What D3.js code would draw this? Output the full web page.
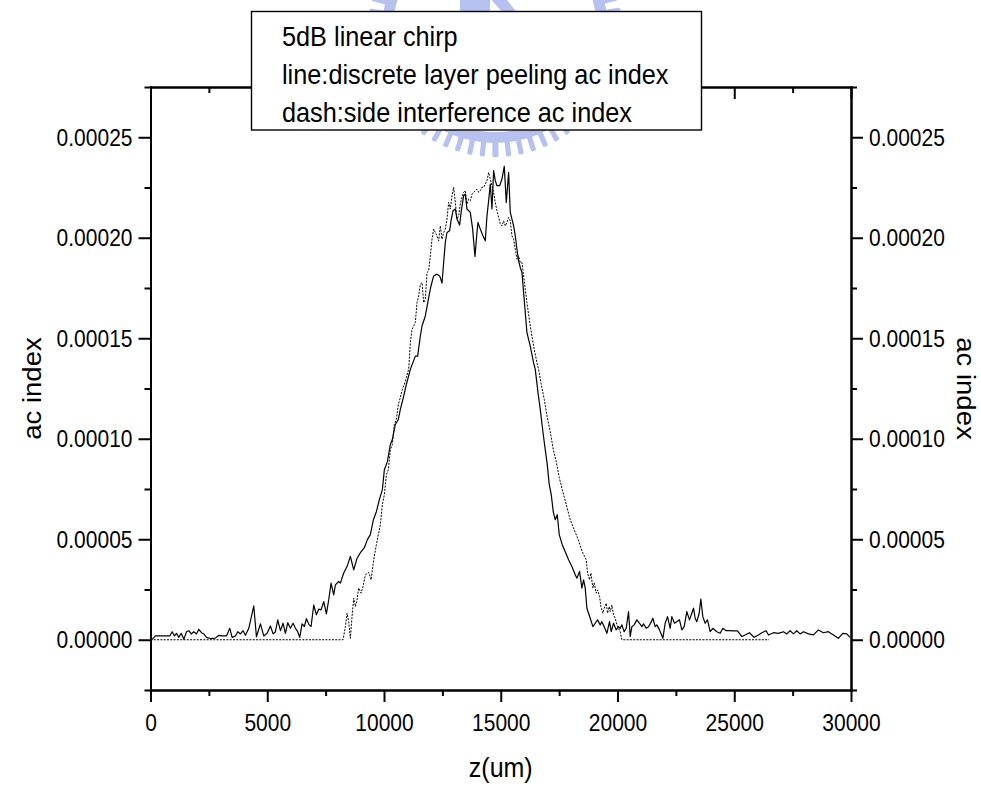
<!DOCTYPE html>
<html>
<head>
<meta charset="utf-8">
<script src="https://cdn.jsdelivr.net/npm/d3@7"></script>
<style>
  html, body { margin: 0; padding: 0; background: #fff; }
  svg { display: block; }
</style>
</head>
<body>
<svg id="chart" width="981" height="788"></svg>
<script>
// ---- axis ticks and labels ----
const xTicks = [0, 5000, 10000, 15000, 20000, 25000, 30000];
const xTickLabels = ["0", "5000", "10000", "15000", "20000", "25000", "30000"];
const xMinorTicks = [2500, 7500, 12500, 17500, 22500, 27500];
const yTicks = [0, 0.00005, 0.0001, 0.00015, 0.0002, 0.00025];
const yTickLabels = ["0.00000", "0.00005", "0.00010", "0.00015", "0.00020", "0.00025"];
const yMinorTicks = [-0.000025, 0.000025, 0.000075, 0.000125, 0.000175, 0.000225, 0.000275];
const xTitle = "z(um)";
const yTitle = "ac index";
const legendLines = [
  "5dB linear chirp",
  "line:discrete layer peeling ac index",
  "dash:side interference ac index"
];

// ---- series: [z (um), ac index] ----
const layerPeeling = [
  [71,0.2e-6],[214,1.9e-6],[428,1.9e-6],[642,1.9e-6],[827,1.9e-6],[927,4.0e-6],[1027,1.9e-6],[1113,3.2e-6],
  [1213,1.2e-6],[1313,3.2e-6],[1427,0.2e-6],[1541,4.0e-6],[1641,4.5e-6],[1741,2.9e-6],[1855,4.0e-6],[1969,2.9e-6],
  [2069,5.2e-6],[2183,3.5e-6],[2283,2.9e-6],[2397,1.2e-6],[2568,0.6e-6],[2782,0.8e-6],[2925,2.2e-6],[3067,1.9e-6],
  [3253,1.9e-6],[3396,5.7e-6],[3495,1.2e-6],[3638,1.9e-6],[3738,4.0e-6],[3852,2.9e-6],[3966,4.5e-6],[4066,2.2e-6],
  [4209,5.7e-6],[4423,16.8e-6],[4537,1.5e-6],[4708,7.9e-6],[4851,1.9e-6],[4993,3.2e-6],[5136,6.9e-6],[5250,2.9e-6],
  [5350,4.0e-6],[5450,9.9e-6],[5564,4.5e-6],[5678,8.2e-6],[5778,3.2e-6],[5878,8.5e-6],[5992,5.7e-6],[6106,8.2e-6],
  [6206,5.7e-6],[6306,4.0e-6],[6392,1.2e-6],[6491,7.9e-6],[6591,6.6e-6],[6677,10.5e-6],[6791,7.4e-6],[6877,6.6e-6],
  [6991,17.3e-6],[7105,12.4e-6],[7205,15.2e-6],[7305,14.9e-6],[7419,19.0e-6],[7533,12.9e-6],[7633,19.8e-6],[7733,28.2e-6],
  [7847,22.3e-6],[7918,27.3e-6],[8061,29.0e-6],[8132,28.2e-6],[8275,33.2e-6],[8417,36.4e-6],[8560,41.5e-6],[8703,34.8e-6],
  [8845,40.5e-6],[8988,43.3e-6],[9159,45.8e-6],[9288,49.8e-6],[9416,52.3e-6],[9544,59.7e-6],[9673,63.7e-6],[9801,69.7e-6],
  [9930,74.7e-6],[10015,84.6e-6],[10144,88.6e-6],[10272,97.1e-6],[10358,99.6e-6],[10486,107.1e-6],[10614,109.6e-6],
  [10700,114.6e-6],[10828,120.5e-6],[10957,127.0e-6],[11128,134.5e-6],[11342,141.1e-6],[11442,141.1e-6],[11556,151.1e-6],
  [11628,156.1e-6],[11770,161.1e-6],[11913,170.2e-6],[12013,176.0e-6],[12127,181.0e-6],[12270,181.9e-6],[12384,181.0e-6],
  [12484,177.4e-6],[12555,187.7e-6],[12626,197.7e-6],[12698,202.6e-6],[12812,203.5e-6],[12869,208.4e-6],[12954,213.4e-6],
  [13054,214.3e-6],[13125,209.3e-6],[13239,206.3e-6],[13311,213.4e-6],[13410,220.9e-6],[13482,221.7e-6],[13553,214.3e-6],
  [13696,212.6e-6],[13796,204.3e-6],[13896,190.7e-6],[13981,202.6e-6],[14024,207.6e-6],[14124,204.3e-6],[14238,201.0e-6],
  [14338,198.5e-6],[14410,210.9e-6],[14481,218.4e-6],[14552,226.7e-6],[14624,214.3e-6],[14695,233.4e-6],[14766,228.4e-6],
  [14838,225.9e-6],[14952,225.9e-6],[15052,229.2e-6],[15151,235.5e-6],[15237,217.6e-6],[15337,232.5e-6],[15408,212.6e-6],
  [15480,209.3e-6],[15551,205.9e-6],[15622,201.0e-6],[15694,194.3e-6],[15765,188.5e-6],[15836,185.2e-6],[15908,182.7e-6],
  [15979,172.7e-6],[16050,162.8e-6],[16122,152.8e-6],[16264,146.1e-6],[16407,137.8e-6],[16478,134.5e-6],[16607,121.9e-6],
  [16692,114.6e-6],[16820,102.1e-6],[16906,94.6e-6],[16992,87.1e-6],[17077,77.2e-6],[17163,72.2e-6],[17248,63.7e-6],
  [17334,59.7e-6],[17420,62.2e-6],[17505,52.3e-6],[17634,47.3e-6],[17762,43.8e-6],[17904,39.8e-6],[18047,36.4e-6],
  [18190,32.3e-6],[18261,30.6e-6],[18375,34.0e-6],[18475,25.7e-6],[18547,29.8e-6],[18618,25.7e-6],[18689,15.7e-6],
  [18832,10.7e-6],[18946,6.5e-6],[19046,8.2e-6],[19146,9.9e-6],[19260,7.4e-6],[19331,9.0e-6],[19431,6.5e-6],[19545,3.2e-6],
  [19659,9.0e-6],[19731,4.0e-6],[19830,8.2e-6],[19945,4.9e-6],[20045,6.5e-6],[20116,5.7e-6],[20187,7.4e-6],[20287,4.0e-6],
  [20373,5.7e-6],[20473,14.0e-6],[20544,1.6e-6],[20615,6.5e-6],[20715,7.4e-6],[20829,9.9e-6],[20943,8.2e-6],[21043,6.5e-6],
  [21115,7.9e-6],[21229,5.7e-6],[21329,6.5e-6],[21428,8.5e-6],[21514,10.7e-6],[21614,6.5e-6],[21685,7.4e-6],[21799,4.9e-6],
  [21942,0.7e-6],[22042,8.2e-6],[22142,11.5e-6],[22256,5.7e-6],[22327,11.5e-6],[22441,8.2e-6],[22541,9.0e-6],[22655,9.9e-6],
  [22755,4.9e-6],[22855,6.5e-6],[22969,14.0e-6],[23083,9.9e-6],[23183,13.2e-6],[23255,15.7e-6],[23326,10.7e-6],[23397,9.0e-6],
  [23497,13.2e-6],[23569,20.2e-6],[23654,11.5e-6],[23754,8.2e-6],[23854,9.9e-6],[23968,4.0e-6],[24083,5.7e-6],[24254,4.0e-6],
  [24396,3.2e-6],[24511,5.7e-6],[24653,4.5e-6],[24796,4.5e-6],[24967,4.4e-6],[25138,4.4e-6],[25324,1.6e-6],[25466,2.4e-6],
  [25651,3.5e-6],[25851,1.2e-6],[26037,2.4e-6],[26180,3.5e-6],[26365,4.5e-6],[26465,2.4e-6],[26679,3.5e-6],[26892,3.2e-6],
  [27107,4.0e-6],[27251,2.9e-6],[27392,4.5e-6],[27535,2.9e-6],[27678,4.5e-6],[27820,2.9e-6],[27963,4.0e-6],[28177,2.9e-6],
  [28390,2.4e-6],[28604,4.9e-6],[28818,3.5e-6],[29031,4.0e-6],[29247,2.4e-6],[29459,0.7e-6],[29647,3.2e-6],[29819,2.9e-6],
  [29960,1.2e-6]
];

const sideInterference = [
  [0,0],[8246,0],[8346,6.5e-6],[8417,13.2e-6],[8489,9.0e-6],[8560,0.7e-6],[8631,11.5e-6],[8703,20.7e-6],[8775,16.5e-6],
  [8845,19.8e-6],[8917,25.7e-6],[9018,23.2e-6],[9103,26.5e-6],[9202,32.3e-6],[9345,33.5e-6],[9447,29.8e-6],[9560,39.8e-6],
  [9673,47.3e-6],[9758,52.3e-6],[9844,57.2e-6],[9930,67.2e-6],[10015,72.2e-6],[10101,82.1e-6],[10186,84.6e-6],[10272,94.6e-6],
  [10358,97.1e-6],[10443,107.1e-6],[10529,109.6e-6],[10614,117.1e-6],[10700,120.5e-6],[10786,124.5e-6],[10871,127.0e-6],
  [10957,130.5e-6],[11056,134.5e-6],[11128,147.8e-6],[11199,154.4e-6],[11270,156.1e-6],[11342,157.8e-6],[11413,167.7e-6],
  [11485,171.0e-6],[11556,176.9e-6],[11628,177.7e-6],[11699,167.7e-6],[11770,169.4e-6],[11842,182.7e-6],[11913,183.5e-6],
  [11984,191.0e-6],[12056,199.3e-6],[12127,204.3e-6],[12198,202.6e-6],[12270,201.0e-6],[12341,198.5e-6],[12412,205.9e-6],
  [12484,199.3e-6],[12555,202.6e-6],[12626,204.3e-6],[12698,209.3e-6],[12769,217.6e-6],[12840,214.3e-6],[12912,220.9e-6],
  [12983,225.1e-6],[13054,217.6e-6],[13125,209.3e-6],[13197,210.9e-6],[13268,216.8e-6],[13339,220.1e-6],[13410,222.6e-6],
  [13482,223.4e-6],[13553,216.8e-6],[13624,219.2e-6],[13696,218.4e-6],[13768,221.7e-6],[13839,222.6e-6],[13910,223.4e-6],
  [13981,224.2e-6],[14053,222.6e-6],[14124,223.4e-6],[14195,225.1e-6],[14267,225.1e-6],[14338,226.7e-6],[14410,228.4e-6],
  [14481,232.5e-6],[14552,229.2e-6],[14624,225.9e-6],[14695,222.6e-6],[14766,217.6e-6],[14838,213.4e-6],[14909,210.1e-6],
  [14980,206.8e-6],[15052,205.9e-6],[15123,208.4e-6],[15194,205.9e-6],[15266,207.6e-6],[15337,210.1e-6],[15408,208.4e-6],
  [15480,201.0e-6],[15551,199.3e-6],[15622,194.3e-6],[15694,189.3e-6],[15765,191.0e-6],[15836,187.7e-6],[15908,187.7e-6],
  [15979,181.0e-6],[16122,167.7e-6],[16264,156.1e-6],[16407,146.1e-6],[16550,137.8e-6],[16621,134.5e-6],[16735,127.0e-6],
  [16863,119.6e-6],[16992,110.6e-6],[17120,103.6e-6],[17248,94.6e-6],[17377,88.6e-6],[17505,80.7e-6],[17634,74.7e-6],
  [17805,67.2e-6],[17976,59.7e-6],[18147,54.7e-6],[18318,49.8e-6],[18490,43.8e-6],[18661,39.8e-6],[18718,33.2e-6],
  [18804,29.8e-6],[18861,33.2e-6],[18946,25.7e-6],[19003,28.2e-6],[19089,23.2e-6],[19146,24.8e-6],[19232,21.5e-6],
  [19289,16.5e-6],[19374,13.2e-6],[19431,15.7e-6],[19517,18.2e-6],[19574,13.2e-6],[19645,16.5e-6],[19688,14.0e-6],
  [19760,17.3e-6],[19830,12.4e-6],[19902,10.7e-6],[19975,7.4e-6],[20045,5.7e-6],[20116,4.0e-6],[20187,0],[26493,0]
];

// ---- layout ----
const FONT = "'Liberation Sans', Arial, Helvetica, sans-serif";
const plot = { left: 150.5, right: 851, top: 87, bottom: 690 };
const STRETCH = 1.1;   // glyphs are drawn slightly tall

const svg = d3.select("#chart");

const x = d3.scaleLinear().domain([0, 30000]).range([plot.left, plot.right]);
const y = d3.scaleLinear().domain([-0.000025, 0.000275]).range([plot.bottom, plot.top]);

// ---- faint seal behind the plot ----
const seal = svg.append("g")
  .attr("transform", "translate(495,30)")
  .attr("fill", "#a4b2ec")
  .attr("opacity", 0.8)
  .style("filter", "blur(0.7px)");
seal.append("path")
  .attr("d", d3.arc().innerRadius(102).outerRadius(113).startAngle(0).endAngle(2 * Math.PI)());
d3.range(0, 360, 5.8).forEach(a => {
  seal.append("rect")
    .attr("x", -2.6).attr("y", 111).attr("width", 5.2).attr("height", 16)
    .attr("rx", 1.5)
    .attr("transform", `rotate(${a})`);
});
seal.append("path").attr("d", "M-35,-40 L-5,-40 L-5,-18 L-35,-18 Z");
seal.append("path").attr("d", "M-12,-40 L4,-40 L28,-10 L14,-10 Z");

// ---- axes ----
function styleAxis(g) {
  g.attr("font-family", FONT).attr("font-size", 21);
  g.select(".domain").attr("stroke", "#000").attr("stroke-width", 2).attr("stroke-linecap", "square");
  g.selectAll(".tick line").attr("stroke", "#000").attr("stroke-width", 2);
  g.selectAll(".tick text").attr("fill", "#000");
}

// bottom
const gBottom = svg.append("g").attr("transform", `translate(0,${plot.bottom})`)
  .call(d3.axisBottom(x).tickValues(xTicks).tickSize(12).tickSizeOuter(0)
    .tickFormat((d, i) => xTickLabels[i]));
styleAxis(gBottom);
gBottom.selectAll(".tick text").attr("y", null).attr("dy", null)
  .attr("transform", `translate(0,41) scale(1,${STRETCH})`);
svg.append("g").attr("transform", `translate(0,${plot.bottom})`)
  .call(d3.axisBottom(x).tickValues(xMinorTicks).tickSize(6).tickSizeOuter(0).tickFormat(""))
  .call(styleAxis);

// top (ticks point inward)
svg.append("g").attr("transform", `translate(0,${plot.top})`)
  .call(d3.axisBottom(x).tickValues(xTicks).tickSize(12).tickSizeOuter(0).tickFormat(""))
  .call(styleAxis);
svg.append("g").attr("transform", `translate(0,${plot.top})`)
  .call(d3.axisBottom(x).tickValues(xMinorTicks).tickSize(6).tickSizeOuter(0).tickFormat(""))
  .call(styleAxis);

// left
const gLeft = svg.append("g").attr("transform", `translate(${plot.left},0)`)
  .call(d3.axisLeft(y).tickValues(yTicks).tickSize(12).tickSizeOuter(0)
    .tickFormat((d, i) => yTickLabels[i]));
styleAxis(gLeft);
gLeft.selectAll(".tick text").attr("x", null).attr("dy", null)
  .attr("transform", `translate(-18,8.2) scale(1,${STRETCH})`);
svg.append("g").attr("transform", `translate(${plot.left},0)`)
  .call(d3.axisLeft(y).tickValues(yMinorTicks).tickSize(6).tickSizeOuter(0).tickFormat(""))
  .call(styleAxis);

// right
const gRight = svg.append("g").attr("transform", `translate(${plot.right},0)`)
  .call(d3.axisRight(y).tickValues(yTicks).tickSize(12).tickSizeOuter(0)
    .tickFormat((d, i) => yTickLabels[i]));
styleAxis(gRight);
gRight.selectAll(".tick text").attr("x", null).attr("dy", null)
  .attr("transform", `translate(18,8.2) scale(1,${STRETCH})`);
svg.append("g").attr("transform", `translate(${plot.right},0)`)
  .call(d3.axisRight(y).tickValues(yMinorTicks).tickSize(6).tickSizeOuter(0).tickFormat(""))
  .call(styleAxis);

// ---- axis titles ----
svg.append("text")
  .attr("transform", `translate(${(plot.left + plot.right) / 2},777) scale(1,${STRETCH})`)
  .attr("text-anchor", "middle").attr("font-family", FONT).attr("font-size", 25)
  .text(xTitle);
const midY = (plot.top + plot.bottom) / 2;
svg.append("text")
  .attr("transform", `translate(41,${midY}) rotate(-90) scale(${STRETCH},1)`)
  .attr("text-anchor", "middle").attr("font-family", FONT).attr("font-size", 25)
  .text(yTitle);
svg.append("text")
  .attr("transform", `translate(957,${midY}) rotate(90) scale(${STRETCH},1)`)
  .attr("text-anchor", "middle").attr("font-family", FONT).attr("font-size", 25)
  .text(yTitle);

// ---- series ----
const line = d3.line().x(d => x(d[0])).y(d => y(d[1]));

svg.append("path")
  .datum(sideInterference)
  .attr("d", line)
  .attr("fill", "none")
  .attr("stroke", "#000")
  .attr("stroke-width", 1)
  .attr("stroke-dasharray", "2,1.3");

svg.append("path")
  .datum(layerPeeling)
  .attr("d", line)
  .attr("fill", "none")
  .attr("stroke", "#000")
  .attr("stroke-width", 1.2)
  .attr("stroke-linejoin", "round");

// ---- legend box ----
const legend = svg.append("g");
legend.append("rect")
  .attr("x", 251.5).attr("y", 11.5).attr("width", 450).attr("height", 118.5)
  .attr("fill", "#fff").attr("stroke", "#000").attr("stroke-width", 1.4);
legend.selectAll("text")
  .data(legendLines)
  .join("text")
  .attr("transform", (d, i) => `translate(282,${45.5 + i * 38}) scale(1,${STRETCH})`)
  .attr("font-family", FONT).attr("font-size", 25.3).attr("fill", "#000")
  .text(d => d);
</script>
</body>
</html>
